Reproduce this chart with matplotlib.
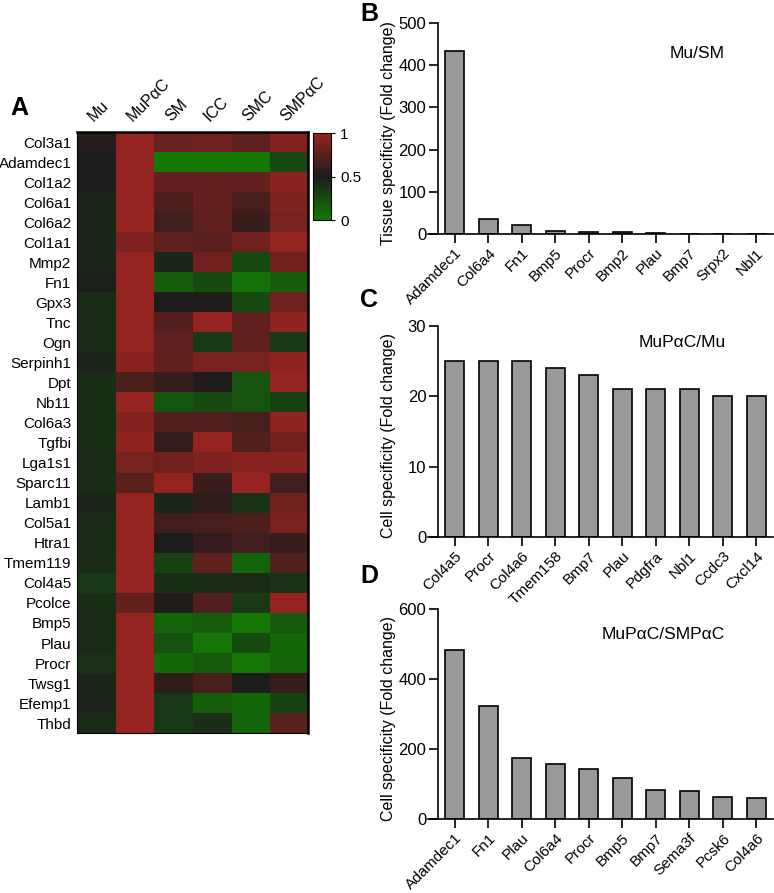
import matplotlib
matplotlib.use("Agg")
import matplotlib.pyplot as plt
import numpy as np
from matplotlib.colors import LinearSegmentedColormap

plt.rcParams["font.family"] = ["Liberation Sans", "DejaVu Sans"]

# heatmap data (relative expression, 0-1)
genes = ["Col3a1", "Adamdec1", "Col1a2", "Col6a1", "Col6a2", "Col1a1", "Mmp2", "Fn1",
         "Gpx3", "Tnc", "Ogn", "Serpinh1", "Dpt", "Nb11", "Col6a3", "Tgfbi", "Lga1s1",
         "Sparc11", "Lamb1", "Col5a1", "Htra1", "Tmem119", "Col4a5", "Pcolce", "Bmp5",
         "Plau", "Procr", "Twsg1", "Efemp1", "Thbd"]
cell_types = ["Mu", "MuPαC", "SM", "ICC", "SMC", "SMPαC"]

mu = [0.55, 0.50, 0.49, 0.45, 0.45, 0.45, 0.45, 0.48, 0.42, 0.42, 0.42, 0.45, 0.40, 0.40, 0.40,
      0.40, 0.42, 0.40, 0.45, 0.42, 0.42, 0.40, 0.35, 0.40, 0.42, 0.42, 0.38, 0.45, 0.45, 0.42]
mupac = [1.0, 1.0, 1.0, 1.0, 1.0, 0.90, 1.0, 1.0, 1.0, 1.0, 1.0, 0.95, 0.70, 1.0, 0.93,
         0.98, 0.88, 0.75, 1.0, 1.0, 1.0, 1.0, 1.0, 0.80, 1.0, 1.0, 1.0, 1.0, 1.0, 1.0]
sm = [0.82, 0.0, 0.80, 0.70, 0.65, 0.78, 0.45, 0.15, 0.50, 0.72, 0.78, 0.78, 0.60, 0.20, 0.72,
      0.60, 0.85, 1.0, 0.45, 0.65, 0.50, 0.30, 0.40, 0.52, 0.12, 0.22, 0.10, 0.58, 0.35, 0.35]
icc = [0.85, 0.02, 0.80, 0.80, 0.78, 0.75, 0.85, 0.25, 0.52, 1.0, 0.35, 0.88, 0.52, 0.25, 0.72,
       1.0, 0.90, 0.62, 0.58, 0.68, 0.60, 0.78, 0.42, 0.72, 0.15, 0.02, 0.18, 0.68, 0.15, 0.40]
smc = [0.78, 0.0, 0.80, 0.68, 0.62, 0.85, 0.25, 0.05, 0.25, 0.78, 0.78, 0.88, 0.20, 0.20, 0.68,
       0.72, 0.95, 1.0, 0.38, 0.70, 0.65, 0.12, 0.42, 0.35, 0.02, 0.25, 0.02, 0.50, 0.10, 0.12]
smpac = [0.93, 0.25, 0.95, 0.90, 0.88, 1.0, 0.85, 0.15, 0.85, 0.98, 0.35, 0.98, 1.0, 0.30, 0.98,
         0.85, 0.95, 0.65, 0.85, 0.88, 0.62, 0.72, 0.38, 1.0, 0.18, 0.10, 0.12, 0.60, 0.30, 0.75]

# bar panels
b_genes = ["Adamdec1", "Col6a4", "Fn1", "Bmp5", "Procr", "Bmp2", "Plau", "Bmp7", "Srpx2", "Nbl1"]
b_vals = [433, 35.5, 20.5, 6, 4, 4, 1.6, 0.4, 0.3, 0.2]
c_genes = ["Col4a5", "Procr", "Col4a6", "Tmem158", "Bmp7", "Plau", "Pdgfra", "Nbl1", "Ccdc3", "Cxcl14"]
c_vals = [25, 25, 25, 24, 23, 21, 21, 21, 20, 20]
d_genes = ["Adamdec1", "Fn1", "Plau", "Col6a4", "Procr", "Bmp5", "Bmp7", "Sema3f", "Pcsk6", "Col4a6"]
d_vals = [483, 322, 175, 157, 143, 118, 82, 81, 64, 61]

cmap = LinearSegmentedColormap.from_list(
    "gkr", [(0.0, "#137a05"), (0.5, "#1c1c1c"), (1.0, "#952420")])

fig = plt.figure(figsize=(7.74, 8.93), dpi=100)

# --- A: heatmap ---
ax = fig.add_axes([0.0995, 0.179, 0.2985, 0.673])
data = np.array([mu, mupac, sm, icc, smc, smpac]).T
im = ax.imshow(data, cmap=cmap, vmin=0, vmax=1, aspect="auto", interpolation="nearest")
ax.set_yticks(range(len(genes)))
ax.set_yticklabels(genes, fontsize=11)
ax.xaxis.tick_top()
ax.set_xticks(range(len(cell_types)))
ax.set_xticklabels(cell_types, fontsize=11.5, rotation=45, ha="left", rotation_mode="anchor")
ax.tick_params(length=0, pad=4)
ax.tick_params(axis="x", pad=6)
for side in ["top", "right"]:
    ax.spines[side].set_linewidth(1.8)
for side in ["left", "bottom"]:
    ax.spines[side].set_linewidth(0.8)

cax = fig.add_axes([0.4044, 0.7536, 0.0233, 0.0974])
cb = fig.colorbar(im, cax=cax, ticks=[0, 0.5, 1])
cb.ax.set_yticklabels(["0", "0.5", "1"], fontsize=11)
cb.ax.tick_params(length=3, width=0.8)
cb.outline.set_linewidth(0.8)


def bar_panel(rect, labels, values, ymax, yticks, ylabel, note, note_xy):
    bx = fig.add_axes(rect)
    x = np.arange(len(labels))
    bx.bar(x, values, width=0.57, color="#999999", edgecolor="black", linewidth=1.2)
    bx.set_xlim(-0.8, 9.5)
    bx.set_ylim(0, ymax)
    bx.set_yticks(yticks)
    bx.set_xticks(x)
    bx.set_xticklabels(labels, rotation=45, ha="right", rotation_mode="anchor", fontsize=11)
    bx.tick_params(axis="both", length=6.5, width=1.2, direction="out", pad=2)
    bx.tick_params(axis="y", labelsize=12)
    bx.spines["top"].set_visible(False)
    bx.spines["right"].set_visible(False)
    bx.spines["left"].set_position(("data", -0.5))
    bx.spines["left"].set_linewidth(1.2)
    bx.spines["bottom"].set_linewidth(1.2)
    bx.set_ylabel(ylabel, fontsize=11.5)
    bx.yaxis.set_label_coords(-0.093, 0.48)
    fig.text(note_xy[0], note_xy[1], note, fontsize=12.5, ha="center", va="center")
    return bx


bar_panel([0.553, 0.738, 0.4457, 0.2363], b_genes, b_vals, 500, [0, 100, 200, 300, 400, 500],
          "Tissue specificity (Fold change)", "Mu/SM", (0.9005, 0.9405))
bar_panel([0.553, 0.3987, 0.4457, 0.2363], c_genes, c_vals, 30, [0, 10, 20, 30],
          "Cell specificity (Fold change)", "MuPαC/Mu", (0.881, 0.616))
bar_panel([0.553, 0.0829, 0.4457, 0.2352], d_genes, d_vals, 600, [0, 200, 400, 600],
          "Cell specificity (Fold change)", "MuPαC/SMPαC", (0.8566, 0.289))

for letter, (lx, ly) in {"A": (10, 108), "B": (360, 14), "C": (360, 300), "D": (360, 576)}.items():
    fig.text(lx / 774, 1 - ly / 893, letter, fontsize=18, fontweight="bold", ha="left", va="center")

fig.savefig("out.png", dpi=100)
